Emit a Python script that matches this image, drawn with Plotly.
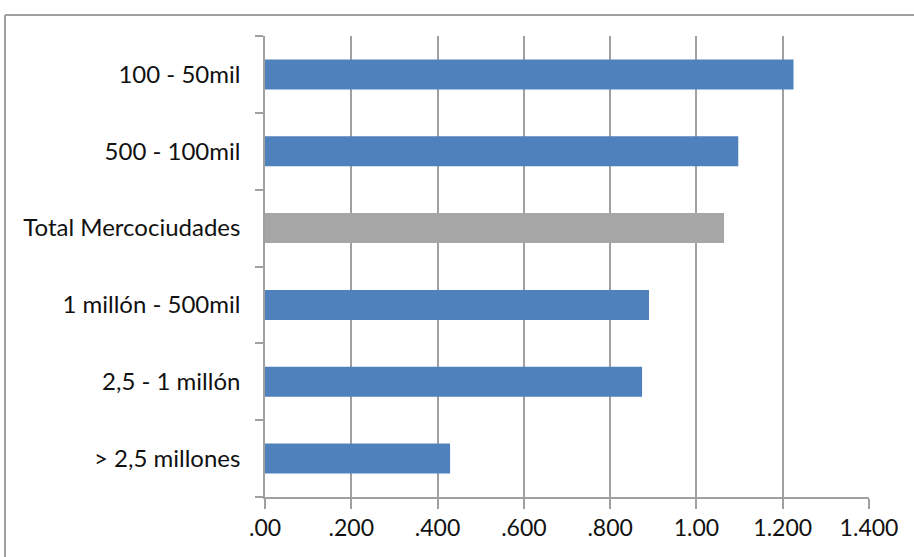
import plotly.graph_objects as go

categories = ["> 2,5 millones", "2,5 - 1 millón", "1 millón - 500mil",
              "Total Mercociudades", "500 - 100mil", "100 - 50mil"]
values = [0.429, 0.874, 0.890, 1.064, 1.097, 1.225]
bar_colors = ["#4F81BD", "#4F81BD", "#4F81BD", "#A6A6A6", "#4F81BD", "#4F81BD"]
tick_vals = [0, 0.2, 0.4, 0.6, 0.8, 1.0, 1.2, 1.4]
tick_text = [".00", ".200", ".400", ".600", ".800", "1.00", "1.200", "1.400"]

W, H = 914, 557
L, R, T, B = 265, 45, 36, 60
pw, ph = W - L - R, H - T - B

fig = go.Figure(go.Bar(
    x=values, y=categories, orientation="h",
    marker=dict(color=bar_colors, line=dict(width=0)),
    width=0.39,
))

fig.update_layout(
    width=W, height=H,
    margin=dict(l=L, r=R, t=T, b=B, pad=0),
    paper_bgcolor="white", plot_bgcolor="white",
    font=dict(family="Lato, 'Open Sans', sans-serif", size=24, color="#111111"),
    showlegend=False,
    xaxis=dict(range=[0, 1.4], tickvals=tick_vals, ticktext=tick_text,
               showgrid=True, gridcolor="#A0A0A0", gridwidth=1.5,
               showline=True, linecolor="#A0A0A0", linewidth=1.5,
               ticks="outside", ticklen=10, tickcolor="#A0A0A0", tickwidth=1.5,
               tickfont=dict(size=23),
               zeroline=False, fixedrange=True),
    yaxis=dict(categoryorder="array", categoryarray=categories,
               showline=True, linecolor="#A0A0A0", linewidth=1.5,
               ticks="outside", ticklen=8, tickcolor="#A0A0A0", tickwidth=1.5,
               tickson="boundaries", showgrid=False, ticklabelstandoff=18,
               fixedrange=True),
)

# outer chart frame (top and left edges visible)
fx0 = (5 - L) / pw
fy1 = (H - B - 15) / ph
fig.add_shape(type="line", xref="paper", yref="paper", x0=fx0, x1=(W - L) / pw + 0.01,
              y0=fy1, y1=fy1, line=dict(color="#A0A0A0", width=2))
fig.add_shape(type="line", xref="paper", yref="paper", x0=fx0, x1=fx0,
              y0=fy1, y1=-B / ph - 0.01, line=dict(color="#A0A0A0", width=2))

fig.write_html("out.html")
